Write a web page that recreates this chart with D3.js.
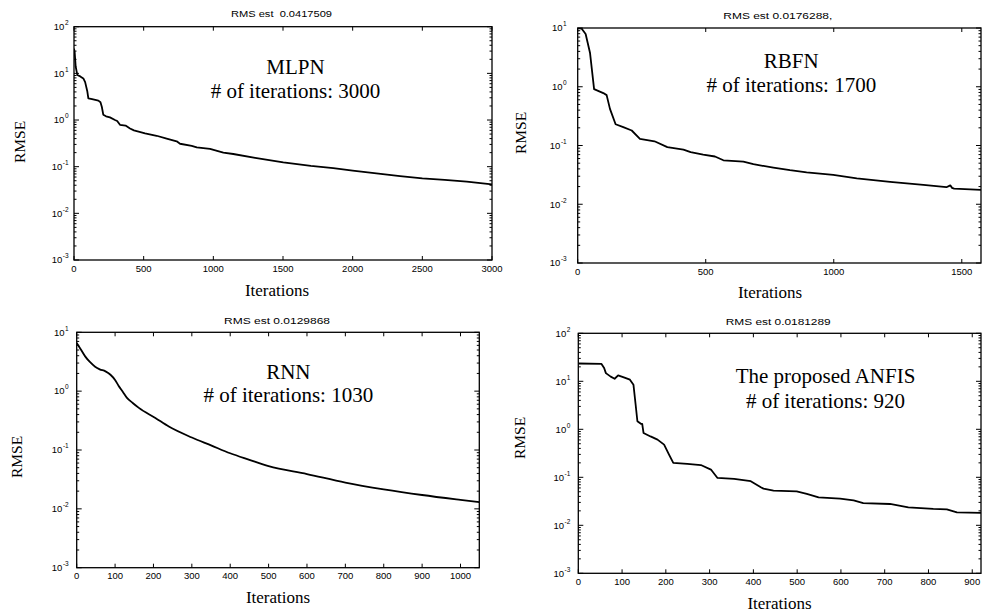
<!DOCTYPE html>
<html>
<head>
<meta charset="utf-8">
<script src="https://cdn.jsdelivr.net/npm/d3@7"></script>
<style>
  html, body { margin: 0; padding: 0; background: #fff; }
  svg { display: block; }
  .sans { font-family: "Liberation Sans", Arial, Helvetica, sans-serif; }
  .serif { font-family: "Liberation Serif", "Times New Roman", serif; }
</style>
</head>
<body>
<svg id="chart" width="984" height="614"></svg>
<script>
// ---- training curves: iteration number vs RMSE ----
const mlpnIter = [0, 5, 12, 24, 45, 67, 80, 95, 103, 130, 175, 190, 200, 210, 230, 258, 294, 310, 330, 370, 402, 430, 510, 593, 665, 737, 761, 845, 881, 976, 1072, 1143, 1300, 1502, 1700, 1861, 2000, 2170, 2340, 2500, 2660, 2819, 3000];
const mlpnRmse = [34, 28, 14, 9.2, 8.6, 7.8, 6.5, 4.2, 2.9, 2.8, 2.6, 2.4, 1.9, 1.3, 1.2, 1.14, 1.0, 0.95, 0.79, 0.76, 0.66, 0.6, 0.52, 0.46, 0.4, 0.35, 0.31, 0.28, 0.26, 0.24, 0.2, 0.187, 0.155, 0.124, 0.104, 0.093, 0.082, 0.072, 0.063, 0.056, 0.052, 0.048, 0.0417509];

const rbfnIter = [0, 15, 31, 48, 64, 100, 113, 126, 148, 178, 211, 243, 300, 350, 413, 441, 490, 536, 569, 647, 686, 764, 829, 894, 998, 1090, 1220, 1350, 1440, 1455, 1462, 1470, 1575];
const rbfnRmse = [10, 9.8, 7.9, 3.8, 0.91, 0.78, 0.72, 0.42, 0.23, 0.205, 0.18, 0.13, 0.118, 0.094, 0.085, 0.077, 0.07, 0.065, 0.056, 0.053, 0.048, 0.042, 0.038, 0.035, 0.0315, 0.0275, 0.024, 0.0213, 0.0195, 0.021, 0.019, 0.0185, 0.0176288];

const rnnIter = [0, 10, 22, 35, 48, 60, 75, 88, 100, 109, 120, 131, 146, 162, 205, 240, 300, 350, 400, 450, 500, 600, 700, 800, 900, 1000, 1049];
const rnnRmse = [6.6, 5.2, 3.9, 3.1, 2.6, 2.35, 2.17, 1.9, 1.55, 1.24, 0.98, 0.77, 0.63, 0.52, 0.35, 0.25, 0.163, 0.12, 0.088, 0.068, 0.053, 0.039, 0.028, 0.0215, 0.0172, 0.0142, 0.0129868];

const anfisIter = [0, 53, 59, 63, 74, 83, 91, 104, 118, 126, 131, 135, 143, 146, 149, 165, 181, 196, 207, 217, 249, 280, 303, 318, 356, 394, 417, 423, 446, 499, 522, 549, 598, 629, 651, 712, 754, 811, 842, 865, 920];
const anfisRmse = [23.5, 23, 19, 14.8, 12.5, 11.3, 13.3, 12.1, 10.8, 8.5, 3.25, 1.47, 1.3, 1.3, 0.84, 0.71, 0.61, 0.48, 0.3, 0.2, 0.19, 0.18, 0.145, 0.097, 0.093, 0.083, 0.062, 0.058, 0.053, 0.051, 0.045, 0.038, 0.036, 0.033, 0.029, 0.0278, 0.0237, 0.022, 0.0215, 0.0186, 0.0181289];

// ---- tick values ----
const mlpnXTicks = [0, 500, 1000, 1500, 2000, 2500, 3000];
const rbfnXTicks = [0, 500, 1000, 1500];
const rnnXTicks = [0, 100, 200, 300, 400, 500, 600, 700, 800, 900, 1000];
const anfisXTicks = [0, 100, 200, 300, 400, 500, 600, 700, 800, 900];
const mlpnYExp = [-3, -2, -1, 0, 1, 2];
const rbfnYExp = [-3, -2, -1, 0, 1];
const rnnYExp = [-3, -2, -1, 0, 1];
const anfisYExp = [-3, -2, -1, 0, 1, 2];

// ---- text ----
const titles = ["RMS est  0.0417509", "RMS est 0.0176288,", "RMS est 0.0129868", "RMS est 0.0181289"];
const modelNames = ["MLPN", "RBFN", "RNN", "The proposed ANFIS"];
const iterNotes = ["# of iterations: 3000", "# of iterations: 1700", "# of iterations: 1030", "# of iterations: 920"];
const xLabel = "Iterations";
const yLabel = "RMSE";

// ---- panel layout (pixels) ----
const panels = [
  { iter: mlpnIter, rmse: mlpnRmse, xTicks: mlpnXTicks, yExp: mlpnYExp, xMax: 3000, curve: d3.curveLinear,
    left: 74, right: 492, top: 26.7, bottom: 260, yGap: 5.5,
    title: [281.5, 17.3, 101], note: [295.5, 74, 98.3], xLab: [277, 295.5], yLab: [25, 142] },
  { iter: rbfnIter, rmse: rbfnRmse, xTicks: rbfnXTicks, yExp: rbfnYExp, xMax: 1575, curve: d3.curveLinear,
    left: 577.7, right: 981, top: 28, bottom: 263, yGap: 11,
    title: [777.8, 19, 109], note: [791.3, 68.3, 91.7], xLab: [770, 297.5], yLab: [526, 133] },
  { iter: rnnIter, rmse: rnnRmse, xTicks: rnnXTicks, yExp: rnnYExp, xMax: 1049, curve: d3.curveMonotoneX,
    left: 76.7, right: 479.3, top: 332.3, bottom: 567.7, yGap: 8,
    title: [277, 324, 106], note: [288.3, 379, 402.3], xLab: [278, 603], yLab: [22, 457] },
  { iter: anfisIter, rmse: anfisRmse, xTicks: anfisXTicks, yExp: anfisYExp, xMax: 920, curve: d3.curveLinear,
    left: 578.3, right: 981, top: 333.3, bottom: 573.3, yGap: 8,
    title: [778.2, 325, 105], note: [825.5, 383.3, 407.7], xLab: [779.5, 608.5], yLab: [525, 438] }
];

const svg = d3.select("#chart");

panels.forEach((p, i) => {
  const x = d3.scaleLinear().domain([0, p.xMax]).range([p.left, p.right]);
  const yMin = Math.pow(10, d3.min(p.yExp)), yMax = Math.pow(10, d3.max(p.yExp));
  const y = d3.scaleLog().domain([yMin, yMax]).range([p.bottom, p.top]);
  const g = svg.append("g");

  // clip for the data line
  const clipId = "clip" + i;
  svg.append("clipPath").attr("id", clipId)
    .append("rect").attr("x", p.left).attr("y", p.top)
    .attr("width", p.right - p.left).attr("height", p.bottom - p.top);

  // data line
  const pts = p.iter.map((v, k) => [v, p.rmse[k]]);
  const line = d3.line().x(d => x(d[0])).y(d => y(d[1])).curve(p.curve);
  g.append("path").datum(pts)
    .attr("d", line)
    .attr("fill", "none")
    .attr("stroke", "#000")
    .attr("stroke-width", 1.8)
    .attr("stroke-linejoin", "round")
    .attr("clip-path", `url(#${clipId})`);

  // inward ticks on all four sides (boxed axes)
  const ticks = g.append("g");
  const tick = (x1, y1, x2, y2) => ticks.append("line")
    .attr("x1", x1).attr("y1", y1).attr("x2", x2).attr("y2", y2)
    .attr("stroke", "#000").attr("stroke-width", 1);
  p.xTicks.forEach(t => {
    const xx = x(t);
    tick(xx, p.bottom, xx, p.bottom - 4);
    tick(xx, p.top, xx, p.top + 4);
  });
  const expLo = d3.min(p.yExp), expHi = d3.max(p.yExp);
  for (let e = expLo; e <= expHi; e++) {
    const yy = y(Math.pow(10, e));
    tick(p.left, yy, p.left + 5, yy);
    tick(p.right, yy, p.right - 5, yy);
    if (e < expHi) {
      for (let k = 2; k <= 9; k++) {
        const ym = y(k * Math.pow(10, e));
        tick(p.left, ym, p.left + 2.5, ym);
        tick(p.right, ym, p.right - 2.5, ym);
      }
    }
  }

  // frame
  g.append("rect")
    .attr("x", p.left).attr("y", p.top)
    .attr("width", p.right - p.left).attr("height", p.bottom - p.top)
    .attr("fill", "none").attr("stroke", "#000").attr("stroke-width", 1.3);

  // x tick labels
  g.selectAll(null).data(p.xTicks).enter().append("text")
    .attr("class", "sans")
    .attr("x", d => x(d)).attr("y", p.bottom + 11.5)
    .attr("text-anchor", "middle")
    .attr("font-size", 9.5)
    .attr("fill", "#000")
    .text(d => d);

  // y tick labels: 10 with exponent
  p.yExp.forEach(e => {
    const yy = y(Math.pow(10, e));
    const t = g.append("text").attr("class", "sans")
      .attr("x", p.left - p.yGap).attr("y", yy + 3.3)
      .attr("text-anchor", "end").attr("font-size", 9.5).attr("fill", "#000");
    t.append("tspan").text("10");
    t.append("tspan").attr("font-size", 6.5).attr("dy", -5).attr("dx", 0.5).text(String(e));
  });

  // title
  g.append("text").attr("class", "sans")
    .attr("x", p.title[0]).attr("y", p.title[1])
    .attr("text-anchor", "middle").attr("font-size", 8.5).attr("fill", "#000")
    .attr("textLength", p.title[2]).attr("lengthAdjust", "spacingAndGlyphs")
    .style("white-space", "pre")
    .text(titles[i]);

  // annotation
  g.append("text").attr("class", "serif")
    .attr("x", p.note[0]).attr("y", p.note[1])
    .attr("text-anchor", "middle").attr("font-size", 21).attr("fill", "#000")
    .text(modelNames[i]);
  g.append("text").attr("class", "serif")
    .attr("x", p.note[0]).attr("y", p.note[2])
    .attr("text-anchor", "middle").attr("font-size", 21).attr("fill", "#000")
    .text(iterNotes[i]);

  // axis labels
  g.append("text").attr("class", "serif")
    .attr("x", p.xLab[0]).attr("y", p.xLab[1])
    .attr("text-anchor", "middle").attr("font-size", 17).attr("fill", "#000")
    .text(xLabel);
  g.append("text").attr("class", "serif")
    .attr("transform", `translate(${p.yLab[0]},${p.yLab[1]}) rotate(-90)`)
    .attr("text-anchor", "middle").attr("font-size", 15.5).attr("fill", "#000")
    .text(yLabel);
});
</script>
</body>
</html>
